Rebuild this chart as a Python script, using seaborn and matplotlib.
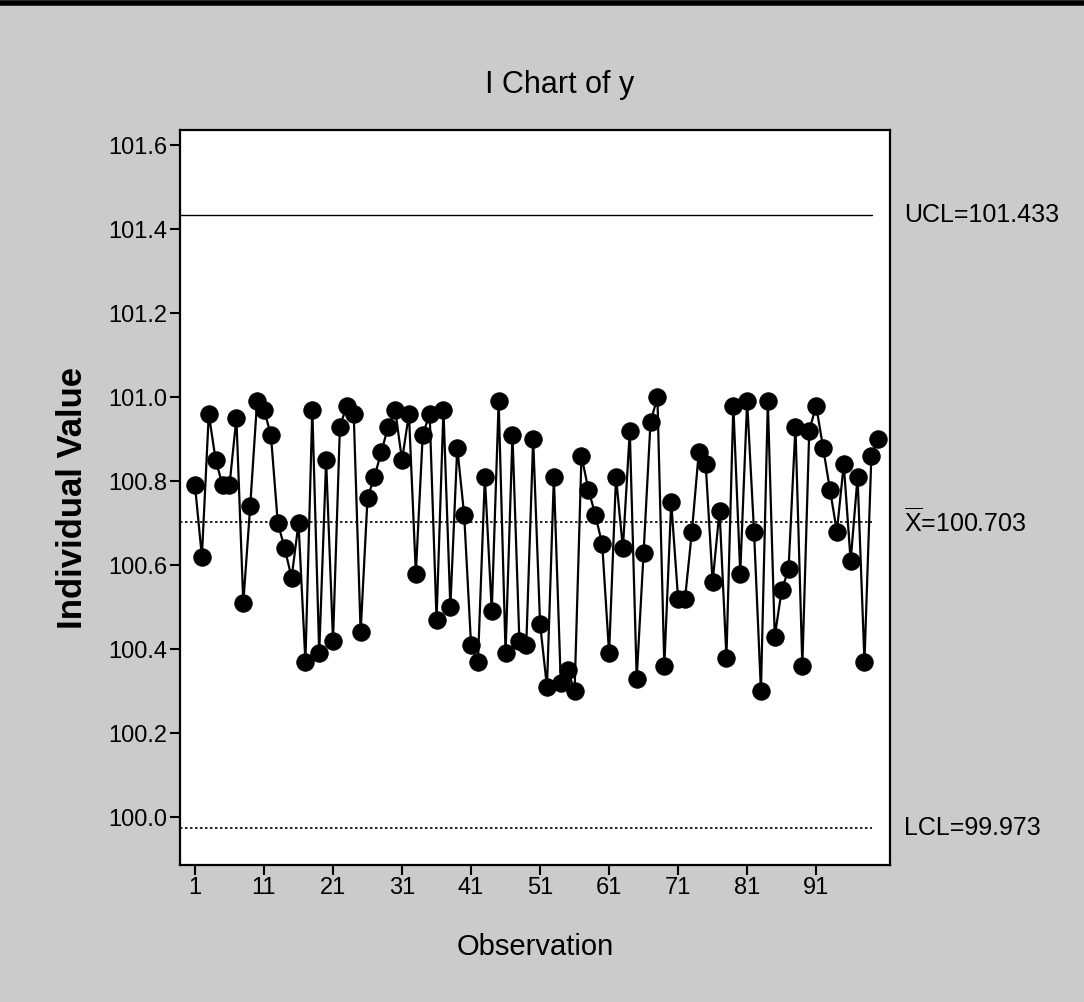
import matplotlib
matplotlib.use("Agg")
import matplotlib.pyplot as plt
import seaborn as sns
import pandas as pd
from matplotlib.lines import Line2D

# ---- data ----
observations = list(range(1, 101))
values = [
    100.79, 100.62, 100.96, 100.85, 100.79, 100.79, 100.95, 100.51, 100.74, 100.99,
    100.97, 100.91, 100.70, 100.64, 100.57, 100.70, 100.37, 100.97, 100.39, 100.85,
    100.42, 100.93, 100.98, 100.96, 100.44, 100.76, 100.81, 100.87, 100.93, 100.97,
    100.85, 100.96, 100.58, 100.91, 100.96, 100.47, 100.97, 100.50, 100.88, 100.72,
    100.41, 100.37, 100.81, 100.49, 100.99, 100.39, 100.91, 100.42, 100.41, 100.90,
    100.46, 100.31, 100.81, 100.32, 100.35, 100.30, 100.86, 100.78, 100.72, 100.65,
    100.39, 100.81, 100.64, 100.92, 100.33, 100.63, 100.94, 101.00, 100.36, 100.75,
    100.52, 100.52, 100.68, 100.87, 100.84, 100.56, 100.73, 100.38, 100.98, 100.58,
    100.99, 100.68, 100.30, 100.99, 100.43, 100.54, 100.59, 100.93, 100.36, 100.92,
    100.98, 100.88, 100.78, 100.68, 100.84, 100.61, 100.81, 100.37, 100.86, 100.90,
]
ucl = 101.433
center = 100.703
lcl = 99.973
x_ticks = [1, 11, 21, 31, 41, 51, 61, 71, 81, 91]
y_ticks = [100.0, 100.2, 100.4, 100.6, 100.8, 101.0, 101.2, 101.4, 101.6]
y_tick_labels = ["100.0", "100.2", "100.4", "100.6", "100.8", "101.0", "101.2", "101.4", "101.6"]
title = "I Chart of y"
x_label = "Observation"
y_label = "Individual Value"
ucl_label = "UCL=101.433"
center_label = r"$\overline{\mathrm{X}}$=100.703"
lcl_label = "LCL=99.973"

df = pd.DataFrame({"Observation": observations, "Value": values})

sns.set_style("white")
fam = ["Liberation Sans", "DejaVu Sans"]
plt.rcParams["font.family"] = fam
plt.rcParams["mathtext.fontset"] = "custom"
plt.rcParams["mathtext.rm"] = "Liberation Sans"
plt.rcParams["mathtext.it"] = "Liberation Sans"
plt.rcParams["text.color"] = "black"
plt.rcParams["xtick.color"] = "black"
plt.rcParams["ytick.color"] = "black"
plt.rcParams["axes.labelcolor"] = "black"

bg = "#cbcbcb"
fig = plt.figure(figsize=(10.84, 10.02), dpi=100, facecolor=bg)
ax = fig.add_axes([180 / 1084, 1 - 865 / 1002, 710 / 1084, 735 / 1002])
ax.set_facecolor("white")

sns.lineplot(data=df, x="Observation", y="Value", ax=ax, color="black",
             linewidth=1.6, marker="o", markersize=12.5, markeredgecolor="black",
             markerfacecolor="black", sort=False, estimator=None)

ax.axhline(ucl, color="black", linewidth=1.0, linestyle="-", xmax=0.975)
ax.axhline(center, color="black", linewidth=1.2, linestyle=(0, (1.5, 1.5)), xmax=0.975)
ax.axhline(lcl, color="black", linewidth=1.2, linestyle=(0, (1.5, 1.5)), xmax=0.975)

ax.set_xlim(-1.17, 101.7)
ax.set_ylim(99.886, 101.636)
ax.set_xticks(x_ticks)
ax.set_xticklabels([str(t) for t in x_ticks], fontsize=17)
ax.set_yticks(y_ticks)
ax.set_yticklabels(y_tick_labels, fontsize=17)
ax.tick_params(axis="both", direction="out", length=7, width=1.5, color="black",
               left=True, bottom=True, pad=2)
for s in ax.spines.values():
    s.set_color("black")
    s.set_linewidth(1.6)

ax.set_xlabel(x_label, fontsize=21, labelpad=24)
ax.set_ylabel(y_label, fontsize=25, fontweight="bold", labelpad=14)

fig.text(560 / 1084, 1 - 85 / 1002, title, ha="center", va="center", fontsize=22)

trans = ax.get_yaxis_transform()
ax.text(1.02, ucl, ucl_label, transform=trans, ha="left", va="center", fontsize=18)
ax.text(1.02, center, center_label, transform=trans, ha="left", va="center", fontsize=18)
ax.text(1.02, lcl, lcl_label, transform=trans, ha="left", va="center", fontsize=18)

# top border line of the scanned frame
fig.add_artist(Line2D([0, 1], [0.997, 0.997], transform=fig.transFigure,
                      color="black", linewidth=4))

fig.savefig("out.png", dpi=100, facecolor=bg)
